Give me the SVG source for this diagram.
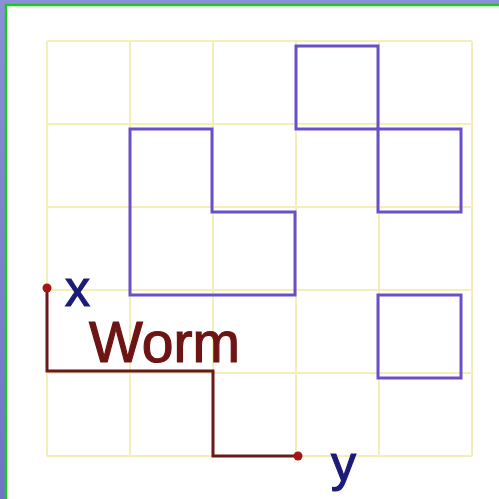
<svg xmlns="http://www.w3.org/2000/svg" width="499" height="499" viewBox="0 0 499 499">
<defs>
<linearGradient id="bg" x1="0" y1="0" x2="0" y2="1">
<stop offset="0" stop-color="#8a8fd8"/>
<stop offset="1" stop-color="#6f74c6"/>
</linearGradient>
</defs>
<style>
.grid{stroke:#f4efb8;stroke-width:2;fill:none}
.cell{stroke:#6a50c8;stroke-width:3;fill:none;stroke-linejoin:miter}
.worm{stroke:#6a1818;stroke-width:3;fill:none}
.dot{fill:#a31616}
.lbl{font-family:"Liberation Sans",Arial,sans-serif;stroke-width:1.2}
.nv{fill:#1c1c78;stroke:#1c1c78}
.rd{fill:#6e1414;stroke:#6e1414}
</style>
<rect x="0" y="0" width="499" height="499" fill="url(#bg)"/>
<rect x="6" y="5" width="493" height="494" fill="#ffffff"/>
<path d="M6 499V5H499" stroke="#1ec81e" stroke-width="2.5" fill="none"/>
<g id="grid" class="grid">
<path d="M47 41V456M130 41V456M213 41V456M296 41V456M379 41V456M472 41V456"/>
<path d="M47 41H472M47 124H472M47 207H472M47 290H472M47 373H472M47 456H472"/>
</g>
<g id="cellA"><rect class="cell" x="296" y="46" width="82" height="83"/></g>
<g id="cellB"><rect class="cell" x="378" y="129" width="83" height="83"/></g>
<g id="cellC"><path class="cell" d="M130 129H212V212H295V295H130Z"/></g>
<g id="cellD"><rect class="cell" x="378" y="295" width="83" height="83"/></g>
<g id="connectors">
<path class="worm" d="M47 288V371H213V456H298"/>
<circle class="dot" cx="47" cy="288" r="4.5"/>
<circle class="dot" cx="298" cy="456" r="4.5"/>
</g>
<g id="labels" class="lbl">
<text class="nv" x="65" y="306" font-size="50">x</text>
<text class="rd" x="89" y="362" font-size="57">Worm</text>
<text class="nv" x="331" y="481" font-size="50">y</text>
</g>
</svg>
